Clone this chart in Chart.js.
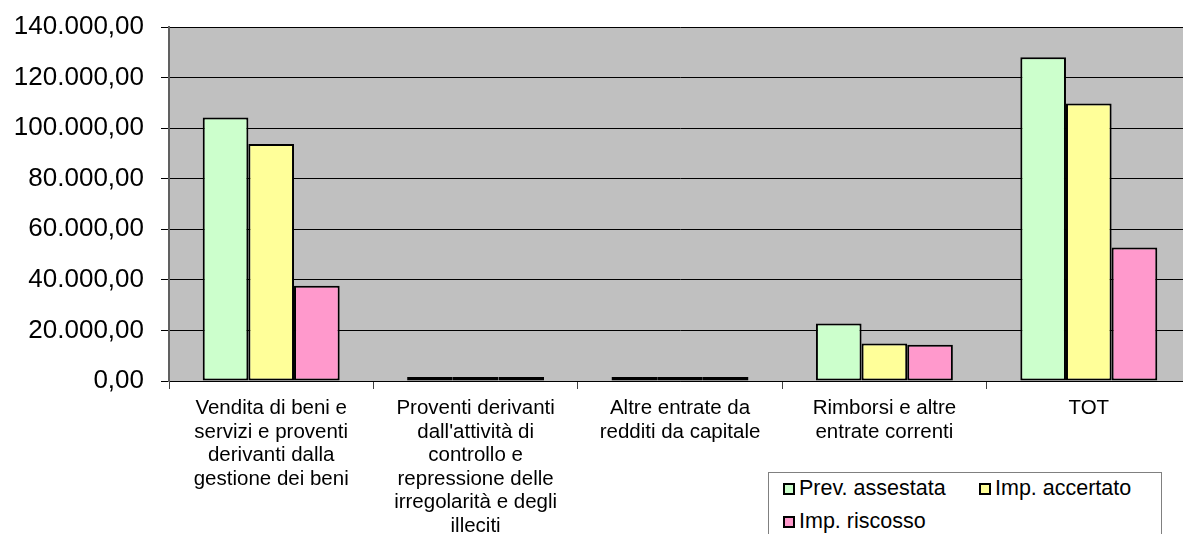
<!DOCTYPE html>
<html>
<head>
<meta charset="utf-8">
<script src="https://cdn.jsdelivr.net/npm/chart.js@4.4.0/dist/chart.umd.min.js"></script>
<style>
  html, body { margin: 0; padding: 0; background: #fff; overflow: hidden; }
  #wrap { position: relative; width: 1183px; height: 534px; overflow: hidden; }
  #legend {
    position: absolute; left: 768px; top: 472px; width: 392px; height: 80px;
    border: 1px solid #808080; background: #fff;
    font-family: "Liberation Sans", Arial, sans-serif; font-size: 21.5px; color: #000;
  }
  .item { position: absolute; height: 22px; line-height: 22px; white-space: nowrap; }
  .box { position: absolute; left: 0; top: 6px; width: 8px; height: 8px; border: 2px solid #000; }
  .item span.txt { position: absolute; left: 16px; top: 0; }
</style>
</head>
<body>
<div id="wrap">
  <canvas id="myChart" width="1195" height="534"></canvas>
  <div id="legend"></div>
</div>
<script>
const categories = [
  ['Vendita di beni e', 'servizi e proventi', 'derivanti dalla', 'gestione dei beni'],
  ['Proventi derivanti', "dall'attività di", 'controllo e', 'repressione delle', 'irregolarità e degli', 'illeciti'],
  ['Altre entrate da', 'redditi da capitale'],
  ['Rimborsi e altre', 'entrate correnti'],
  ['TOT']
];
const seriesNames = ['Prev. assestata', 'Imp. accertato', 'Imp. riscosso'];
const seriesColors = ['#ccffcc', '#ffff99', '#ff99cc'];
const prevAssestata = [104200, 500, 600, 22700, 128000];
const impAccertato  = [93700, 800, 200, 14800, 109700];
const impRiscosso   = [37700, 800, 200, 14300, 52800];
const yTicks = [0, 20000, 40000, 60000, 80000, 100000, 120000, 140000];

const ctx = document.getElementById('myChart');

function fmt(v){
  let s = Math.round(v).toString();
  s = s.replace(/\B(?=(\d{3})+(?!\d))/g, '.');
  return s + ',00';
}

const plotBg = {
  id: 'plotBg',
  beforeDraw(chart){
    const a = chart.chartArea;
    const c = chart.ctx;
    c.save();
    c.fillStyle = '#c0c0c0';
    c.fillRect(a.left, a.top, a.right - a.left, a.bottom - a.top);
    c.restore();
  }
};

const values = [prevAssestata, impAccertato, impRiscosso];
const datasets = seriesNames.map((name, i) => ({
  label: name,
  data: values[i],
  backgroundColor: seriesColors[i],
  borderColor: '#000',
  borderWidth: 2,
  borderSkipped: false,
  minBarLength: 4,
  barPercentage: 1,
  categoryPercentage: 0.67
}));

new Chart(ctx, {
  type: 'bar',
  data: { labels: categories, datasets: datasets },
  options: {
    responsive: false,
    animation: false,
    devicePixelRatio: 1,
    layout: { padding: { top: 27, right: 4, bottom: 0, left: 0 } },
    plugins: { legend: { display: false }, tooltip: { enabled: false } },
    scales: {
      x: {
        grid: { drawOnChartArea: false, offset: true, tickLength: 8, color: '#404040' },
        border: { color: '#000', width: 1 },
        ticks: {
          color: '#000', maxRotation: 0, autoSkip: false, padding: 8,
          font: { family: '"Liberation Sans", Arial, sans-serif', size: 20.5, lineHeight: 1.146 }
        },
        afterFit(scale){ scale.height = 153; }
      },
      y: {
        min: 0, max: 140000,
        afterBuildTicks(scale){ scale.ticks = yTicks.map(v => ({ value: v })); },
        grid: { color: '#000', lineWidth: 1, tickLength: 8 },
        border: { color: '#606060', width: 2 },
        ticks: {
          color: '#000', padding: 17,
          font: { family: '"Liberation Sans", Arial, sans-serif', size: 26 },
          callback: v => fmt(v)
        },
        afterFit(scale){
          scale.width = 169;
          scale.paddingTop = 0;
          scale.paddingBottom = 0;
        }
      }
    }
  },
  plugins: [plotBg]
});

// legenda
const legend = document.getElementById('legend');
const pos = [[14, 4], [210, 4], [14, 37]];
seriesNames.forEach((name, i) => {
  const it = document.createElement('div');
  it.className = 'item';
  it.style.left = pos[i][0] + 'px';
  it.style.top = pos[i][1] + 'px';
  it.innerHTML = `<div class="box" style="background:${seriesColors[i]}"></div><span class="txt">${name}</span>`;
  legend.appendChild(it);
});
</script>
</body>
</html>
